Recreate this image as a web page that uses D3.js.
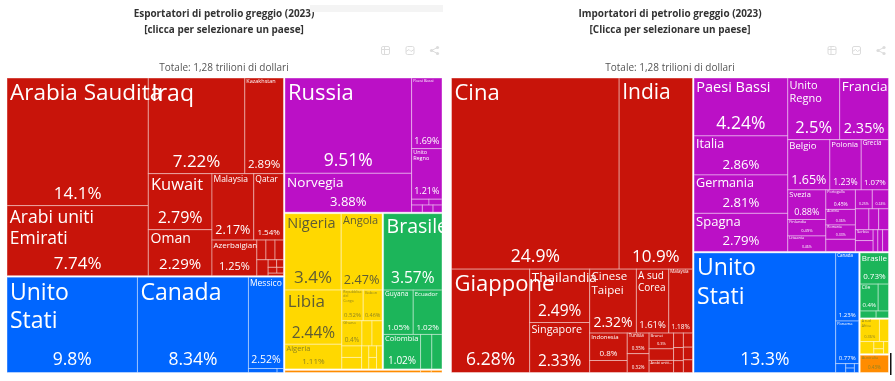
<!DOCTYPE html>
<html><head><meta charset="utf-8">
<script src="https://cdn.jsdelivr.net/npm/d3@7"></script>
<style>
html,body{margin:0;padding:0;background:#fff;overflow:hidden}
svg{display:block;filter:blur(.3px)}
text{font-family:"Open Sans",sans-serif}
</style></head><body>
<svg id="c" width="895" height="381"></svg>
<script>
// ---------- data: exporters ----------
const exportTitle = ["Esportatori di petrolio greggio (2023)", "[clicca per selezionare un paese]"];
const exportNames = ["Arabia Saudita","Arabi uniti Emirati","Iraq","Kazakhstan","Kuwait","Oman","Malaysia","Qatar","Azerbaigian",
  null,null,null,null,null,null,null,null,null,
  "Unito Stati","Canada","Messico",null,null,
  "Russia","Norvegia","Paesi Bassi","Unito Regno",null,null,null,null,null,
  "Nigeria","Angola","Libia","Algeria","Repubblica del Congo","Gabon","Ghana",null,null,null,null,null,null,null,null,
  "Brasile","Guyana","Ecuador","Colombia",null,null,
  null,null,null];
const exportValues = [14.1,7.74,7.22,2.89,2.79,2.29,2.17,1.54,1.25,
  0.14,0.14,0.13,0.14,0.05,0.04,0.04,0.03,0.03,
  9.8,8.34,2.52,0.09,0.02,
  9.51,3.88,1.69,1.21,0.08,0.06,0.06,0.06,0.05,
  3.4,2.47,2.44,1.11,0.52,0.46,0.4,0.2,0.2,0.18,0.18,0.13,0.07,0.07,0.1,
  3.57,1.05,1.02,1.02,0.31,0.28,
  0.38,0.03,0.03];
// nesting of the cells: "h" = side by side, "v" = stacked, ":x" = continent
const exportNesting = ["h",
  ["v",
    ["h:asia",["v",0,1],["v",["h",2,3],["h",["v",4,5],["v",["h",6,7],["h",8,["v",["h",9,10,11],["h",12,["v",["h",13,14],["h",15,16],17]]]]]]]],
    ["h:namerica",18,19,["v",20,["h",21,22]]]],
  ["v",
    ["h:europe",["v",23,24],["v",25,26,["v",["h",27,28],["h",29,30,31]]]],
    ["h",
      ["v:africa",["h",32,33],["h",["v",34,35],["v",["h",36,37],["h",38,39,40],["h",["v",41,42],43,["v",44,45],46]]]],
      ["v:samerica",47,["h",48,49],["h",50,51,52]]],
    ["h:oceania",53,54,55]]];

// ---------- data: importers ----------
const importTitle = ["Importatori di petrolio greggio (2023)", "[Clicca per selezionare un paese]"];
const importNames = ["Cina","India","Giappone","Thailandia","Singapore","Cinese Taipei","A sud Corea","Malaysia",
  "Indonesia",null,"Tunisia",null,"Brunei",null,"Arabi uniti...",null,null,null,null,null,null,
  "Paesi Bassi","Italia","Germania","Spagna","Unito Regno","Francia","Belgio","Polonia","Grecia",
  "Svezia","Finlandia","Lituania","Portogallo","Austria","Romania",null,null,null,null,null,null,"Serbia",null,null,null,null,
  "Unito Stati","Canada","Panama",null,null,null,null,
  "Brasile","Cile",null,null,null,
  "A sud Africa",null,null,null,null,null,
  "Australia"];
const importValues = [24.9,10.9,6.28,2.49,2.33,2.32,1.61,1.18,
  0.8,0.35,0.35,0.32,0.3,0.22,0.23,0.11,0.1,0.09,0.1,0.09,0.09,
  4.24,2.86,2.81,2.79,2.5,2.35,1.65,1.23,1.07,
  0.88,0.49,0.46,0.45,0.36,0.33,0.28,0.25,0.24,0.22,0.16,0.16,0.15,0.15,0.08,0.08,0.1,
  13.3,1.23,0.77,0.07,0.03,0.03,0.03,
  0.73,0.4,0.23,0.09,0.07,
  0.36,0.17,0.14,0.06,0.04,0.05,
  0.43];
const importNesting = ["h",
  ["v:asia",["h",0,1],["h",2,["v",3,4],["v",["h",5,6,7],["h",["v",8,9],["v",10,11],["v",12,13,14],["h",["v",15,16,17],["v",18,19,20]]]]]],
  ["v",
    ["h:europe",["v",21,22,23,24],["v",["h",25,26],["h",27,28,29],
      ["h",["v",30,31,32],["v",33,34,35,36],["v",["h",37,38],["h",39,40,41],["h",["v",42,43],["h",44,45],46]]]]],
    ["h",
      ["h:namerica",47,["v",48,49,["h",50,["v",51,52],53]]],
      ["v",
        ["v:samerica",54,["h",55,56],["h",57,58]],
        ["v:africa",["h",59,60],["h",61,["v",62,63],64]],
        ["h:oceania",65]]]]];

// ---------- styling (not data) ----------
const continentColors = {asia:"#c8140a",namerica:"#0066ff",europe:"#bb10c6",africa:"#ffd800",samerica:"#1cb55a",oceania:"#ff8c00"};
const darkText = new Set(["africa","oceania"]);
const lineBreaks = {"Arabi uniti Emirati":["Arabi uniti","Emirati"],"Unito Stati":["Unito","Stati"],"Unito Regno":["Unito","Regno"],
  "Cinese Taipei":["Cinese","Taipei"],"A sud Corea":["A sud","Corea"],"A sud Africa":["A sud","Africa"],"Repubblica del Congo":["Repubblica","del","Congo"]};
// label -> [name font size, percentage font size]; a "v" key is a cell with only a percentage
const exportFonts = {"Arabia Saudita":[22.5,17],"Arabi uniti Emirati":[17.5,17],"Iraq":[23,17],"Kazakhstan":[5.5,11.5],"Kuwait":[16.5,16],"Oman":[14,15],
  "Malaysia":[8.5,12.5],"Qatar":[8.5,8],"Azerbaigian":[8,11],"Unito Stati":[23,17.5],"Canada":[23,17.5],"Messico":[8.5,10.5],
  "Russia":[22,17.5],"Norvegia":[13.5,13],"Paesi Bassi":[4,9],"Unito Regno":[5.5,9],"Nigeria":[14.5,17],"Angola":[11,12.7],"Libia":[17,15.5],
  "Algeria":[7.5,8],"Repubblica del Congo":[3.5,6],"Gabon":[4,5.5],"Ghana":[4,6.5],"Brasile":[19.5,15.5],"Guyana":[6.5,8],"Ecuador":[6,8],"Colombia":[7.5,10]};
const importFonts = {"Cina":[22,17.5],"India":[21,17],"Giappone":[22,17.5],"Thailandia":[13.5,15.5],"Singapore":[10.8,15.5],"Cinese Taipei":[11.5,14],
  "A sud Corea":[10,9.5],"Malaysia":[4.5,6.5],"Indonesia":[6,8],"Tunisia":[4.5,4.5],"v0.32":[0,4.5],"Brunei":[4,4],"Arabi uniti...":[3.8,0],
  "Paesi Bassi":[14.5,17.5],"Italia":[12.5,13.2],"Germania":[12.6,13.2],"Spagna":[13,13.2],"Unito Regno":[11,16.5],"Francia":[13.5,14.5],
  "Belgio":[9.5,12.5],"Polonia":[7.7,8.7],"Grecia":[6.3,7.8],"Svezia":[7.5,9],"Finlandia":[4,4],"Lituania":[4,3.5],"Portogallo":[3.7,5],
  "Austria":[3.5,3.5],"Romania":[3.5,3.5],"v0.25":[0,3.5],"v0.24":[0,3.5],"Serbia":[4,0],"Unito Stati":[23,17.5],"Canada":[4.5,6],"Panama":[4,6],
  "Brasile":[8,8],"Cile":[5,6],"A sud Africa":[3.5,4],"Australia":[4,4.5]};

const svg = d3.select("#c");
const pctFormat = d3.format(".3~r");

function buildTree(t, names, values, cont){
  if (typeof t === "number") return {name:names[t], value:values[t], cont};
  const [dir, c] = t[0].split(":");
  const own = c || cont;
  return {dir, cont:own, children:t.slice(1).map(k => buildTree(k, names, values, own))};
}

function tile(node,x0,y0,x1,y1){
  (node.data.dir === "h" ? d3.treemapDice : d3.treemapSlice)(node,x0,y0,x1,y1);
}

function drawIcons(g, xs, y){
  const col = "#dcdcdc";
  const i = g.append("g").attr("fill","none").attr("stroke",col).attr("stroke-width",1);
  i.append("rect").attr("x",xs[0]-4).attr("y",y-4).attr("width",8).attr("height",8).attr("rx",1.5);
  i.append("path").attr("d",`M${xs[0]-4} ${y-1}H${xs[0]+4}M${xs[0]-1} ${y-4}V${y+4}`);
  i.append("rect").attr("x",xs[1]-4).attr("y",y-4).attr("width",8).attr("height",8).attr("rx",1.5);
  i.append("path").attr("d",`M${xs[1]-4} ${y+1}L${xs[1]-1} ${y-1}L${xs[1]+1} ${y+1}L${xs[1]+4} ${y-1}`);
  i.append("path").attr("d",`M${xs[2]+3} ${y-3}L${xs[2]-3} ${y}L${xs[2]+3} ${y+3}`);
  [[3,-3],[-3,0],[3,3]].forEach(p=> g.append("circle").attr("cx",xs[2]+p[0]).attr("cy",y+p[1]).attr("r",1.6).attr("fill",col));
}

function drawChart(cfg){
  const {title,names,values,nesting,fonts,x0,x1,y0,y1,cx,icons,id} = cfg;
  const g = svg.append("g");
  title.forEach((t,i)=> g.append("text").attr("x",cx).attr("y",17+i*15.5).attr("text-anchor","middle")
    .attr("font-size",9.95).attr("font-weight",700).attr("fill","#333").text(t));
  g.append("text").attr("x",cx).attr("y",70.5).attr("text-anchor","middle")
    .attr("font-size",10).attr("fill","#555").text("Totale: 1,28 trilioni di dollari");
  drawIcons(g,icons,50.5);

  const root = d3.hierarchy(buildTree(nesting,names,values)).sum(d=>d.value||0);
  d3.treemap().tile(tile).size([x1-x0,y1-y0]).paddingInner(d=> d.data.cont ? 0 : 1.5)(root);
  const plot = g.append("g").attr("transform",`translate(${x0},${y0})`);
  svg.append("clipPath").attr("id",id).append("rect").attr("width",x1-x0).attr("height",y1-y0);

  const leaves = root.leaves();
  plot.selectAll("rect.cell").data(leaves).join("rect").attr("class","cell")
    .attr("x",d=>d.x0).attr("y",d=>d.y0)
    .attr("width",d=>Math.max(0,d.x1-d.x0)).attr("height",d=>Math.max(0,d.y1-d.y0))
    .attr("fill",d=>continentColors[d.data.cont])
    .attr("stroke","rgba(255,255,255,.4)").attr("stroke-width",1);

  const labels = plot.append("g").attr("clip-path",`url(#${id})`);
  leaves.forEach(d=>{
    const f = fonts[d.data.name || ("v"+d.data.value)];
    if (!f) return;
    const dark = darkText.has(d.data.cont);
    const ink = dark ? (f[0] < 9 && f[1] < 9 ? "#8f8420" : "#5f5c34") : "#fff";
    if (f[0]){
      const lines = lineBreaks[d.data.name] || [d.data.name];
      const t = labels.append("text").attr("font-size",f[0]).attr("fill",ink);
      lines.forEach((l,i)=> t.append("tspan").attr("x",d.x0+Math.max(1.5,Math.min(3,f[0]*.16)))
        .attr("y",d.y0+f[0]*.98+2*(f[0]<8?-.2:0)+i*f[0]*1.22).text(l));
    }
    if (f[1]){
      labels.append("text").attr("font-size",f[1]).attr("fill",ink).attr("text-anchor","middle")
        .attr("x",(d.x0+d.x1)/2).attr("y",d.y1-(2.5+.27*f[1])).text(pctFormat(d.data.value)+"%");
    }
  });
}

drawChart({id:"clipE",title:exportTitle,names:exportNames,values:exportValues,nesting:exportNesting,fonts:exportFonts,
  x0:7,x1:442,y0:78,y1:372.5,cx:224,icons:[385.5,410,434.5]});
drawChart({id:"clipI",title:importTitle,names:importNames,values:importValues,nesting:importNesting,fonts:importFonts,
  x0:451.5,x1:888.5,y0:78,y1:372.5,cx:670,icons:[832,856.5,881]});

// scan artefacts of the source picture
svg.append("rect").attr("x",310).attr("y",5).attr("width",133).attr("height",7).attr("fill","#f4f4f4");
svg.append("rect").attr("x",890).attr("y",353).attr("width",1.5).attr("height",22).attr("fill","#111");
</script>
</body></html>
